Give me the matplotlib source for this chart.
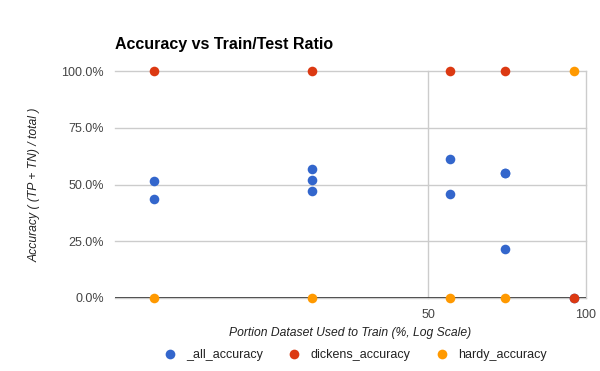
import matplotlib.pyplot as plt
from matplotlib.lines import Line2D
from matplotlib.ticker import FixedLocator, FuncFormatter, NullLocator

plt.rcParams['font.family'] = ['Liberation Sans', 'DejaVu Sans']

# Dados (x em %, y em fração)
all_x = [15, 15, 30, 30, 30, 55, 55, 70, 70, 70, 95]
all_y = [0.517, 0.436, 0.568, 0.520, 0.473, 0.612, 0.458, 0.552, 0.552, 0.217, 0.0]
dickens_x = [15, 30, 55, 70, 95]
dickens_y = [1.0, 1.0, 1.0, 1.0, 0.0]
hardy_x = [15, 30, 55, 70, 95]
hardy_y = [0.0, 0.0, 0.0, 0.0, 1.0]

series = [
    (all_x, all_y, '#3366CC', '_all_accuracy'),
    (dickens_x, dickens_y, '#DC3912', 'dickens_accuracy'),
    (hardy_x, hardy_y, '#FF9900', 'hardy_accuracy'),
]

W, H = 600, 371
fig = plt.figure(figsize=(W / 100, H / 100), dpi=100)
ax = fig.add_axes([115 / W, (H - 298) / H, (586 - 115) / W, (298 - 71) / H])

handles = []
for xs, ys, cor, nome in series:
    ax.scatter(xs, ys, s=48, color=cor, zorder=3, clip_on=False, linewidths=0)
    # o matplotlib ignora rótulos começando com "_", então o handle é feito à mão
    handles.append(Line2D([], [], marker='o', linestyle='none', markersize=7,
                          markerfacecolor=cor, markeredgewidth=0, label=nome))

ax.set_xscale('log')
ax.set_xlim(12.64, 100)
ax.set_ylim(0, 1)

ax.xaxis.set_major_locator(FixedLocator([50, 100]))
ax.xaxis.set_minor_locator(NullLocator())
ax.xaxis.set_major_formatter(FuncFormatter(lambda v, p: f'{v:g}'))
ax.yaxis.set_major_locator(FixedLocator([0, 0.25, 0.5, 0.75, 1.0]))
ax.yaxis.set_major_formatter(FuncFormatter(lambda v, p: f'{v * 100:.1f}%'))

ax.grid(True, color='#cccccc', linewidth=1)
ax.set_axisbelow(True)
for linha in ax.get_xgridlines() + ax.get_ygridlines():
    linha.set_clip_on(False)
for lado in ['left', 'right', 'top', 'bottom']:
    ax.spines[lado].set_visible(False)
ax.axhline(0, color='#333333', linewidth=1.2, zorder=2)

ax.tick_params(length=0, labelsize=9, colors='#444444', pad=8)

ax.set_xlabel('Portion Dataset Used to Train (%, Log Scale)', fontsize=8.75,
              style='italic', color='#222222', labelpad=4)
ax.set_ylabel('Accuracy ( (TP + TN) / total )', fontsize=8.75,
              style='italic', color='#222222', labelpad=15)

fig.text(115 / W, 1 - 45 / H, 'Accuracy vs Train/Test Ratio', fontsize=11.5,
         fontweight='bold', color='#000000', va='center', ha='left')

leg = fig.legend(handles=handles, loc='center', bbox_to_anchor=(355 / W, 1 - 355 / H),
                 ncol=3, frameon=False, fontsize=9, handletextpad=0.8,
                 columnspacing=2.0, handlelength=1.0)
for t in leg.get_texts():
    t.set_color('#222222')

fig.savefig('out.png', dpi=100)
plt.close()
